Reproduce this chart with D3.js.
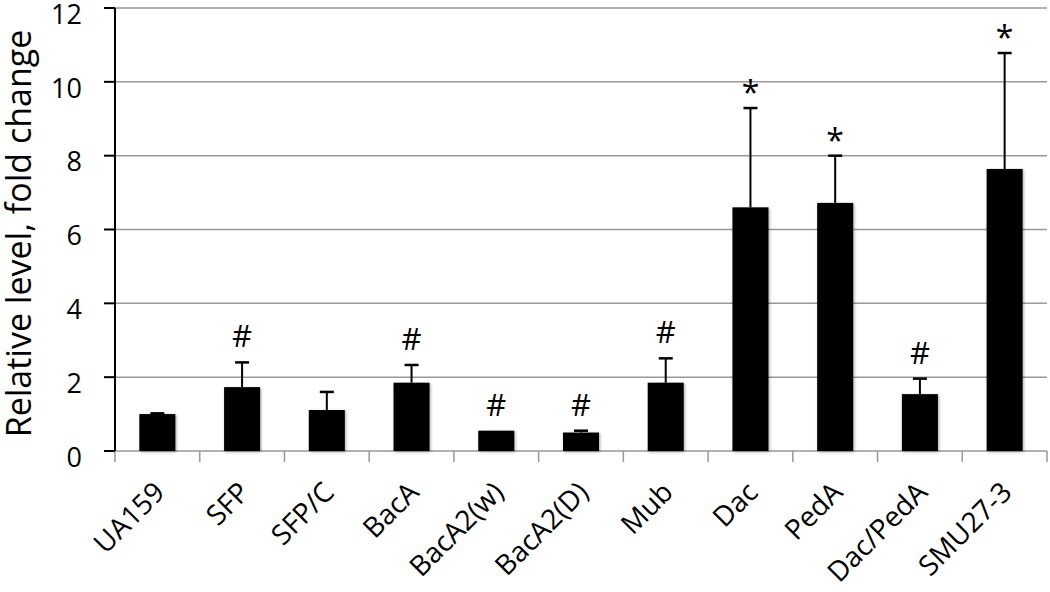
<!DOCTYPE html>
<html>
<head>
<meta charset="utf-8">
<script src="https://cdn.jsdelivr.net/npm/d3@7"></script>
<style>
  body { margin: 0; background: #fff; }
  text { font-family: "Open Sans", "Liberation Sans", sans-serif; fill: #000; }
</style>
</head>
<body>
<div id="chart"></div>
<script>
const categories = ['UA159', 'SFP', 'SFP/C', 'BacA', 'BacA2(w)', 'BacA2(D)', 'Mub', 'Dac', 'PedA', 'Dac/PedA', 'SMU27-3'];
const values = [1.0, 1.73, 1.11, 1.85, 0.55, 0.50, 1.85, 6.60, 6.72, 1.54, 7.64];
const errors = [0.02, 0.67, 0.49, 0.48, 0.0, 0.05, 0.66, 2.69, 1.28, 0.42, 3.14];
const marks = ['', '#', '', '#', '#', '#', '#', '*', '*', '#', '*'];
const yTicks = [0, 2, 4, 6, 8, 10, 12];

const width = 1050, height = 592;
const margin = {top: 8, right: 3, bottom: 141, left: 115};
const innerW = width - margin.left - margin.right;
const innerH = height - margin.top - margin.bottom;

const svg = d3.select("#chart").append("svg")
    .attr("width", width)
    .attr("height", height);

const defs = svg.append("defs");
const shadow = defs.append("filter").attr("id", "shadow")
    .attr("x", "-20%").attr("y", "-20%").attr("width", "140%").attr("height", "140%");
shadow.append("feDropShadow")
    .attr("dx", 1).attr("dy", 1).attr("stdDeviation", 1.5)
    .attr("flood-color", "#000").attr("flood-opacity", 0.35);

const g = svg.append("g").attr("transform", `translate(${margin.left},${margin.top})`);

const x = d3.scaleBand().domain(categories).range([0, innerW]).paddingInner(0.575).paddingOuter(0.2875);
const y = d3.scaleLinear().domain([0, 12]).range([innerH, 0]);

// gridlines
g.selectAll(".grid")
    .data(yTicks.filter(t => t > 0))
    .enter().append("line")
    .attr("x1", 0).attr("x2", innerW)
    .attr("y1", d => y(d)).attr("y2", d => y(d))
    .attr("stroke", "#999").attr("stroke-width", 1.5);

// x axis line + ticks between categories
const step = x.step();
g.append("line")
    .attr("x1", 0).attr("x2", innerW)
    .attr("y1", y(0)).attr("y2", y(0))
    .attr("stroke", "#999").attr("stroke-width", 1.5);
g.selectAll(".xtick")
    .data(d3.range(categories.length + 1))
    .enter().append("line")
    .attr("x1", i => i * step).attr("x2", i => i * step)
    .attr("y1", y(0)).attr("y2", y(0) + 11)
    .attr("stroke", "#999").attr("stroke-width", 1.5);

// bars
g.selectAll(".bar")
    .data(categories)
    .enter().append("rect")
    .attr("x", d => x(d))
    .attr("y", (d, i) => y(values[i]))
    .attr("width", x.bandwidth())
    .attr("height", (d, i) => y(0) - y(values[i]))
    .attr("fill", "#000")
    .attr("filter", "url(#shadow)");

// error bars
const capW = 14;
categories.forEach((c, i) => {
    if (errors[i] <= 0) return;
    const cx = x(c) + x.bandwidth() / 2;
    const top = y(values[i] + errors[i]);
    g.append("line")
        .attr("x1", cx).attr("x2", cx)
        .attr("y1", y(values[i])).attr("y2", top)
        .attr("stroke", "#000").attr("stroke-width", 2);
    g.append("line")
        .attr("x1", cx - capW / 2).attr("x2", cx + capW / 2)
        .attr("y1", top).attr("y2", top)
        .attr("stroke", "#000").attr("stroke-width", 2.5);
});

// significance marks
g.selectAll(".mark")
    .data(categories)
    .enter().append("text")
    .attr("x", d => x(d) + x.bandwidth() / 2)
    .attr("y", (d, i) => y(values[i] + errors[i]) - (marks[i] === '*' ? 4 : 15))
    .attr("text-anchor", "middle")
    .style("font-size", (d, i) => marks[i] === '*' ? "32px" : "31px")
    .text((d, i) => marks[i]);

// y axis
g.append("line")
    .attr("x1", 0).attr("x2", 0)
    .attr("y1", y(12)).attr("y2", y(0))
    .attr("stroke", "#000").attr("stroke-width", 2);
g.selectAll(".ytick")
    .data(yTicks)
    .enter().append("line")
    .attr("x1", -11).attr("x2", 0)
    .attr("y1", d => y(d)).attr("y2", d => y(d))
    .attr("stroke", "#000").attr("stroke-width", 2);
g.selectAll(".ylabel")
    .data(yTicks)
    .enter().append("text")
    .attr("x", -33)
    .attr("y", d => y(d) + 6)
    .attr("dy", "0.36em")
    .attr("text-anchor", "end")
    .style("font-size", "27px")
    .text(d => d);

// x labels
g.selectAll(".xlabel")
    .data(categories)
    .enter().append("text")
    .attr("text-anchor", "end")
    .attr("transform", d => `translate(${x(d) + x.bandwidth() / 2 + 9},${y(0) + 43}) rotate(-45)`)
    .style("font-size", "28px")
    .text(d => d);

// y title
svg.append("text")
    .attr("transform", `translate(31,${margin.top + innerH / 2 + 4}) rotate(-90)`)
    .attr("text-anchor", "middle")
    .style("font-size", "34px")
    .text("Relative level, fold change");
</script>
</body>
</html>
